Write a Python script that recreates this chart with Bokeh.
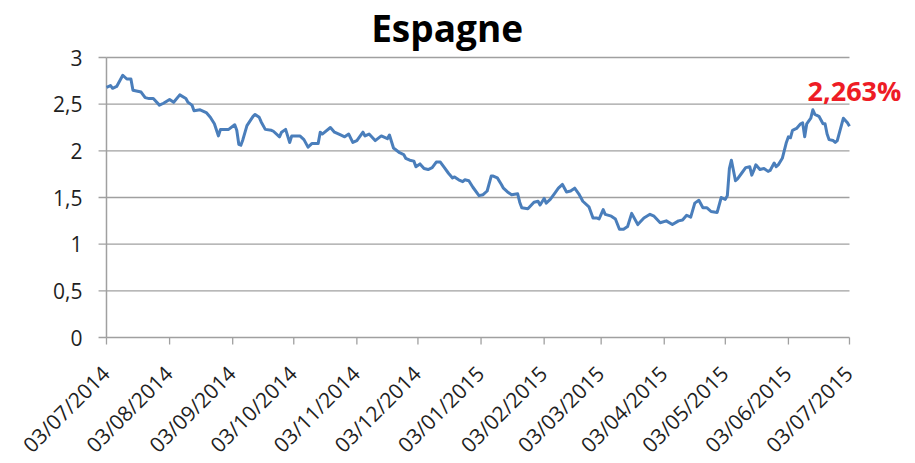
import math
from datetime import datetime
from bokeh.plotting import figure
from bokeh.models import Label, Range1d
from bokeh.core.properties import value
from bokeh.embed import file_html
from bokeh.resources import INLINE

# ---- data ----
title_text = "Espagne"
start_date = "03/07/2014"
# days since start_date
days = [0, 2, 3, 5, 8, 10, 12, 13, 17, 19,
        21, 23, 26, 28, 31, 33, 36, 39, 40, 42,
        43, 46, 49, 51, 53, 55, 56, 60, 63, 64,
        65, 66, 67, 69, 72, 73, 75, 76, 78, 81,
        82, 85, 86, 88, 90, 91, 95, 97, 99, 101,
        104, 105, 106, 110, 112, 115, 117, 119, 121, 123,
        126, 127, 129, 132, 135, 138, 139, 141, 144, 146,
        147, 149, 151, 152, 154, 156, 158, 160, 162, 164,
        166, 168, 170, 171, 173, 175, 176, 178, 180, 183,
        185, 187, 189, 190, 192, 194, 195, 197, 199, 202,
        203, 204, 207, 210, 212, 213, 215, 216, 218, 220,
        222, 224, 226, 228, 230, 232, 234, 237, 239, 241,
        242, 244, 245, 248, 250, 252, 254, 256, 258, 261,
        264, 267, 269, 272, 275, 278, 281, 283, 285, 287,
        289, 291, 293, 295, 297, 300, 302, 304, 305, 306,
        307, 309, 310, 312, 314, 316, 317, 318, 319, 321,
        323, 325, 326, 328, 329, 330, 332, 334, 335, 336,
        337, 339, 341, 342, 343, 344, 346, 347, 348, 350,
        352, 353, 354, 355, 357, 358, 359, 361, 362, 364,
        365]
yields = [2.68, 2.70, 2.67, 2.69, 2.81, 2.77, 2.77, 2.65, 2.63, 2.57,
          2.56, 2.56, 2.49, 2.51, 2.55, 2.52, 2.60, 2.56, 2.52, 2.49,
          2.43, 2.44, 2.41, 2.36, 2.29, 2.16, 2.23, 2.23, 2.28, 2.22,
          2.07, 2.06, 2.12, 2.27, 2.37, 2.39, 2.36, 2.31, 2.23, 2.22,
          2.21, 2.15, 2.20, 2.23, 2.09, 2.16, 2.16, 2.12, 2.04, 2.08,
          2.08, 2.20, 2.18, 2.25, 2.20, 2.17, 2.15, 2.18, 2.09, 2.11,
          2.20, 2.16, 2.18, 2.11, 2.16, 2.13, 2.17, 2.03, 1.98, 1.96,
          1.92, 1.90, 1.89, 1.83, 1.86, 1.81, 1.80, 1.82, 1.88, 1.88,
          1.82, 1.76, 1.71, 1.72, 1.69, 1.67, 1.69, 1.68, 1.61, 1.52,
          1.53, 1.57, 1.73, 1.73, 1.71, 1.64, 1.60, 1.56, 1.53, 1.54,
          1.45, 1.39, 1.38, 1.45, 1.46, 1.42, 1.49, 1.44, 1.48, 1.54,
          1.60, 1.64, 1.56, 1.57, 1.60, 1.54, 1.46, 1.40, 1.28, 1.28,
          1.27, 1.37, 1.32, 1.30, 1.27, 1.16, 1.16, 1.19, 1.33, 1.21,
          1.28, 1.32, 1.30, 1.23, 1.25, 1.21, 1.25, 1.26, 1.31, 1.29,
          1.44, 1.47, 1.39, 1.39, 1.35, 1.34, 1.50, 1.48, 1.52, 1.81,
          1.90, 1.68, 1.70, 1.76, 1.82, 1.83, 1.74, 1.79, 1.85, 1.80,
          1.81, 1.78, 1.79, 1.87, 1.83, 1.85, 1.92, 2.09, 2.15, 2.14,
          2.22, 2.24, 2.29, 2.30, 2.15, 2.29, 2.35, 2.44, 2.39, 2.37,
          2.29, 2.29, 2.18, 2.12, 2.11, 2.09, 2.11, 2.27, 2.35, 2.30,
          2.263]
tick_labels = ["03/07/2014", "03/08/2014", "03/09/2014", "03/10/2014",
               "03/11/2014", "03/12/2014", "03/01/2015", "03/02/2015",
               "03/03/2015", "03/04/2015", "03/05/2015", "03/06/2015",
               "03/07/2015"]
y_ticks = [0, 0.5, 1, 1.5, 2, 2.5, 3]
y_tick_labels = ["0", "0,5", "1", "1,5", "2", "2,5", "3"]
last_label = "2,263%"

# ---- chart ----
start = datetime.strptime(start_date, "%d/%m/%Y")
tick_days = [(datetime.strptime(t, "%d/%m/%Y") - start).days for t in tick_labels]
x0, x1 = tick_days[0], tick_days[-1]
y0, y1 = y_ticks[0], y_ticks[-1]

FONT = "Open Sans"
GRID = "#a0a0a0"
TEXT = "#1f1f1f"
# The drawing area covers the whole canvas so that the title, the end label and
# the slanted date labels can be placed freely; gridlines, axis lines and ticks
# are drawn only around the data box.
X_START = -52.07
X_END = 393.5
Y_START = -1.35
Y_END = 3.611
TICK_X = 3.9     # length of the value ticks, in days
TICK_Y = 0.075   # length of the date ticks, in value units

p = figure(width=907, height=463, output_backend="svg", toolbar_location=None,
           x_range=Range1d(X_START, X_END), y_range=Range1d(Y_START, Y_END),
           min_border_left=0, min_border_right=0,
           min_border_top=0, min_border_bottom=0)
p.outline_line_color = None
p.background_fill_color = "white"
p.border_fill_color = "white"
p.title = None
p.xaxis.visible = False
p.yaxis.visible = False
p.xgrid.visible = False
p.ygrid.visible = False

n_y = len(y_ticks)
n_x = len(tick_days)

# horizontal gridlines (the one at 0 is the date axis line) and value axis line
p.segment(x0=[x0] * n_y, y0=y_ticks, x1=[x1] * n_y, y1=y_ticks,
          line_color=GRID, line_width=1.3)
p.segment(x0=[x0], y0=[y0], x1=[x0], y1=[y1], line_color=GRID, line_width=1.5)

# value ticks and labels
p.segment(x0=[x0 - TICK_X] * n_y, y0=y_ticks, x1=[x0] * n_y, y1=y_ticks,
          line_color=GRID, line_width=1.3)
p.text(x=[x0] * n_y, y=y_ticks, text=y_tick_labels, text_align="right",
       text_baseline="middle", x_offset=-24, y_offset=0,
       text_font=value(FONT), text_font_size="21px", text_color=TEXT)

# date ticks and slanted date labels
p.segment(x0=tick_days, y0=[y0] * n_x, x1=tick_days, y1=[y0 - TICK_Y] * n_x,
          line_color=GRID, line_width=1.3)
p.text(x=tick_days, y=[y0] * n_x, text=tick_labels, angle=math.pi / 4,
       text_align="right", text_baseline="middle", x_offset=-1, y_offset=32,
       text_font=value(FONT), text_font_size="21px", text_color=TEXT)

# the series
p.line(days, yields, line_color="#4a7ebb", line_width=3, line_join="round")

# title
p.add_layout(Label(x=x0 + (x1 - x0) * 0.3562, y=3.323, text=title_text,
                   text_color="black", text_font=FONT, text_font_style="bold",
                   text_font_size="37px", text_align="left",
                   text_baseline="alphabetic"))

# value of the last point
p.add_layout(Label(x=days[-1], y=yields[-1], text=last_label,
                   text_color="#ee1c25", text_font=FONT, text_font_style="bold",
                   text_font_size="27px", text_align="center",
                   text_baseline="middle", x_offset=5, y_offset=36))

open("out.html", "w").write(file_html(p, INLINE))
